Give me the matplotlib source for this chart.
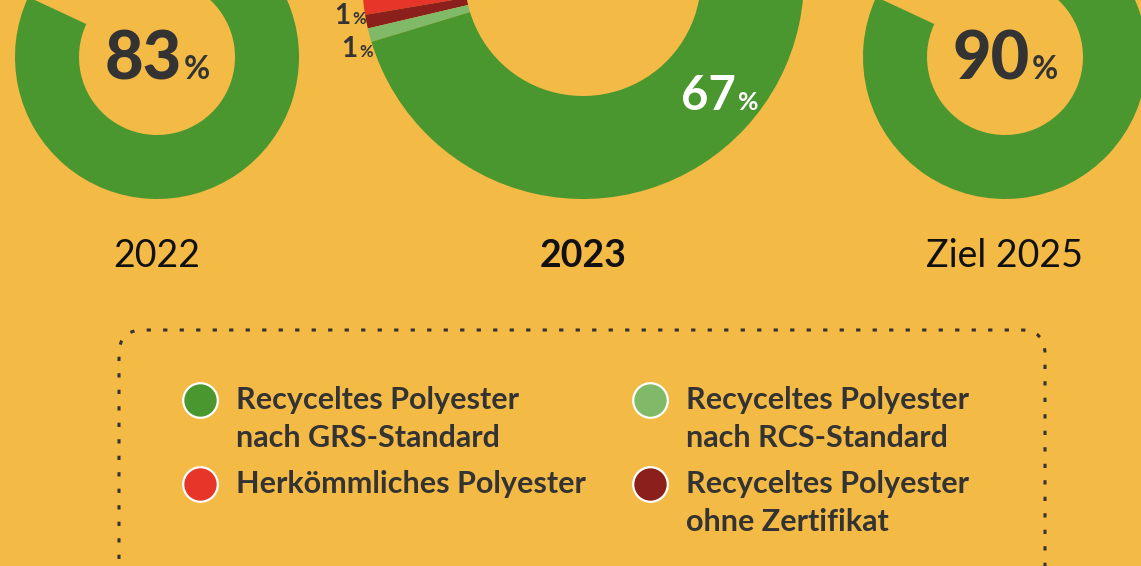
import matplotlib
matplotlib.use("Agg")
import matplotlib.pyplot as plt
from matplotlib.patches import FancyBboxPatch

# --- data ---
years = ["2022", "2023", "Ziel 2025"]
grs_share = [83, 67, 90]              # recycled polyester, GRS standard
share_2023 = [31, 1, 1, 67]           # conventional, recycled w/o cert, RCS, GRS
legend_labels = [["Recyceltes Polyester", "nach GRS-Standard"],
                 ["Herkömmliches Polyester"],
                 ["Recyceltes Polyester", "nach RCS-Standard"],
                 ["Recyceltes Polyester", "ohne Zertifikat"]]

BG = "#F4BA46"
GREEN = "#4A962F"
LIGHT = "#80BA69"
RED = "#E8352A"
DARKRED = "#8B1F1B"
DARK = "#333333"
legend_colors = [GREEN, RED, LIGHT, DARKRED]

W, H = 1141, 566
plt.rcParams['font.family'] = ['Lato', 'DejaVu Sans']

fig = plt.figure(figsize=(W / 100, H / 100), dpi=100, facecolor=BG)
ax = fig.add_axes([0, 0, 1, 1])
ax.set_facecolor(BG)

def img_y(y):
    return H - y

# donut geometry (pixels)
small_R, small_w = 142, 64
big_R, big_w = 221, 103
centers = [(157, img_y(57)), (583, img_y(-22)), (1005, img_y(57))]

# 2022 and 2025: green share, rest left open
for i in (0, 2):
    ax.pie([grs_share[i], 100 - grs_share[i]], colors=[GREEN, "none"],
           center=centers[i], radius=small_R, startangle=155,
           counterclock=True, wedgeprops=dict(width=small_w, linewidth=0))

# 2023 full breakdown
ax.pie(share_2023, colors=[RED, DARKRED, LIGHT, GREEN], center=centers[1],
       radius=big_R, startangle=78, counterclock=True,
       wedgeprops=dict(width=big_w, linewidth=0))

ax.set_xlim(0, W)
ax.set_ylim(0, H)
ax.set_aspect("equal")
ax.axis("off")

renderer = fig.canvas.get_renderer()

def pct_label(x, y, value, big, small, color, weight, align="center"):
    t1 = ax.text(0, y, str(value), fontsize=big, fontweight=weight, color=color,
                 ha="left", va="baseline")
    t2 = ax.text(0, y, "%", fontsize=small, fontweight="bold", color=color,
                 ha="left", va="baseline")
    w1 = t1.get_window_extent(renderer).width
    w2 = t2.get_window_extent(renderer).width
    gap = 2
    if align == "center":
        x0 = x - (w1 + gap + w2) / 2
    else:  # right
        x0 = x - (w1 + gap + w2)
    t1.set_x(x0)
    t2.set_x(x0 + w1 + gap)

pct_label(centers[0][0], img_y(79), grs_share[0], 48, 23, DARK, "black")
pct_label(centers[2][0], img_y(79), grs_share[2], 48, 23, DARK, "black")
pct_label(708 + 12, img_y(110), share_2023[3], 34, 18, "white", "bold")
pct_label(366, img_y(24), share_2023[1], 20, 12, DARK, "bold", align="right")
pct_label(373, img_y(57), share_2023[2], 20, 12, DARK, "bold", align="right")

# year labels
for (cx, _), label, wt in zip(centers, years, ["normal", "bold", "normal"]):
    ax.text(cx, img_y(267), label, fontsize=27, fontweight=wt, color="#111111",
            ha="center", va="baseline")

# dotted legend box (runs off the bottom)
box = FancyBboxPatch((119, img_y(640)), 1045 - 119, 640 - 330,
                     boxstyle="round,pad=0,rounding_size=24",
                     facecolor="none", edgecolor=DARK, linewidth=2.2,
                     linestyle=(0, (1.4, 4.0)))
ax.add_patch(box)

# legend entries
marker_x = [200, 200, 650, 650]
marker_y = [400, 484, 400, 484]
for mx, my, col, lines in zip(marker_x, marker_y, legend_colors, legend_labels):
    ax.scatter([mx], [img_y(my)], s=620, color=col, edgecolors="white",
               linewidths=1.6, zorder=3)
    for k, line in enumerate(lines):
        ax.text(mx + 36, img_y(my + 9 + 38 * k), line, fontsize=22,
                fontweight="bold", color=DARK, ha="left", va="baseline")

fig.savefig("out.png", dpi=100, facecolor=BG)
